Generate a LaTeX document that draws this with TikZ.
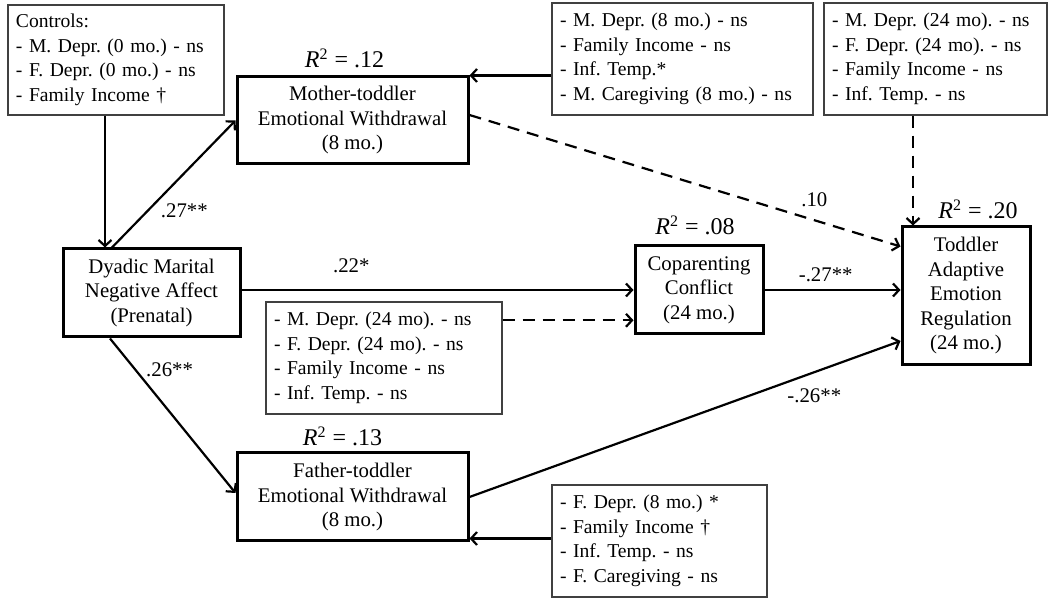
\documentclass[tikz,border=0pt]{standalone}
\usepackage{fontspec}
\setmainfont{Liberation Serif}
\frenchspacing
\usetikzlibrary{arrows.meta}
\usetikzlibrary{positioning, calc}

\begin{document}
\begin{tikzpicture}[x=0.5pt, y=-0.5pt,
      every node/.style={font=\fontsize{10.4pt}{12.25pt}\selectfont},
      mainbox/.style={draw, line width=1.5pt, align=center, inner sep=2pt},
      ctrlbox/.style={draw=black!75, line width=0.7pt, align=left, inner xsep=4pt, inner ysep=2pt, minimum height=56pt, font=\fontsize{9.8pt}{12.25pt}\selectfont},
      coef/.style={inner sep=1pt},
      rsq/.style={font=\fontsize{12pt}{14pt}\selectfont, inner sep=1pt},
      arrowline/.style={-{Straight Barb[length=3pt, width=6.5pt]}, line width=1.1pt},
      dashline/.style={-{Straight Barb[length=3pt, width=6.5pt]}, line width=1.1pt, dash pattern=on 6pt off 4pt}]
      \useasboundingbox (0, 0) rectangle (1050, 603);

      \node[ctrlbox, text width=100pt, minimum height=55pt] (ctrl) at (116, 60) {Controls:\\- M. Depr. (0 mo.) - ns\\- F. Depr. (0 mo.) - ns\\- Family Income \textdagger};
      \node[ctrlbox, text width=122.5pt] (cm8) at (682.5, 59) {- M. Depr. (8 mo.) - ns\\- Family Income - ns\\- Inf. Temp.*\\- M. Caregiving (8 mo.) - ns};
      \node[ctrlbox, text width=103.5pt] (c24top) at (935.5, 59) {- M. Depr. (24 mo). - ns\\- F. Depr. (24 mo). - ns\\- Family Income - ns\\- Inf. Temp. - ns};
      \node[ctrlbox, text width=110pt] (c24mid) at (384, 358) {- M. Depr. (24 mo). - ns\\- F. Depr. (24 mo). - ns\\- Family Income - ns\\- Inf. Temp. - ns};
      \node[ctrlbox, text width=99.5pt] (cf8) at (659.5, 541) {- F. Depr. (8 mo.) *\\- Family Income \textdagger\\- Inf. Temp. - ns\\- F. Caregiving - ns};

      \node[mainbox, minimum width=115.5pt, minimum height=43.5pt] (mom) at (352.5, 120.5) {Mother-toddler\\Emotional Withdrawal\\(8 mo.)};
      \node[mainbox, minimum width=115.5pt, minimum height=44pt] (dad) at (352.5, 497) {Father-toddler\\Emotional Withdrawal\\(8 mo.)};
      \node[mainbox, minimum width=88.5pt, minimum height=44pt] (dyad) at (151.5, 293) {Dyadic Marital\\Negative Affect\\(Prenatal)};
      \node[mainbox, minimum width=64pt, minimum height=44pt] (cop) at (699, 290) {Coparenting\\Conflict\\(24 mo.)};
      \node[mainbox, minimum width=64pt, minimum height=69pt] (tod) at (966, 296) {Toddler\\Adaptive\\Emotion\\Regulation\\(24 mo.)};

      \node[rsq, above=2.5pt of mom, xshift=-4pt] (momrsq) {\textit{R}\textsuperscript{2} = .12};
      \node[rsq, above=1.5pt of dad, xshift=-5pt] (dadrsq) {\textit{R}\textsuperscript{2} = .13};
      \node[rsq, above=3.5pt of cop, xshift=-2pt] (coprsq) {\textit{R}\textsuperscript{2} = .08};
      \node[rsq, above=2pt of tod, xshift=6pt] (todrsq) {\textit{R}\textsuperscript{2} = .20};

      \draw[arrowline] ($(ctrl.south)+(-11, 0)$) -- ($(ctrl.south |- dyad.north)+(-11, 0)$);
      \draw[arrowline] ($(dyad.north)+(-39.5, 0)$) -- (mom.west) node[coef, pos=0.29, right=5pt] {.27**};
      \draw[arrowline] ($(dyad.south)+(-41.5, 0)$) -- ($(dad.west)+(0, -4)$) node[coef, pos=0.2, right=4pt] {.26**};
      \draw[arrowline] (dyad.east |- cop.west) -- (cop.west) node[coef, pos=0.28, above=7pt] {.22*};
      \draw[arrowline] (cop.east) -- (cop.east -| tod.west) node[coef, pos=0.45, above=2.5pt] {-.27**};
      \draw[arrowline] (dad.east) -- ($(tod.west)+(0, 45)$) node[coef, pos=0.8, below=6.5pt] {-.26**};
      \draw[dashline] ($(mom.east)+(0, -5.5)$) -- ($(tod.north west)+(0, 21)$) node[coef, pos=0.8, above=5pt] {.10};

      \draw[arrowline] (mom.north east -| cm8.west) -- (mom.north east);
      \draw[arrowline] ($(dad.south east -| cf8.west)+(0, -4)$) -- ($(dad.south east)+(0, -4)$);
      \draw[dashline] ($(c24mid.north east)+(0, 19)$) -- ($(c24mid.north east -| cop.west)+(0, 19)$);
      \draw[dashline] ($(c24top.south)+(-22.5, 0)$) -- ($(c24top.south |- tod.north)+(-22.5, 0)$);
\end{tikzpicture}
\end{document}
